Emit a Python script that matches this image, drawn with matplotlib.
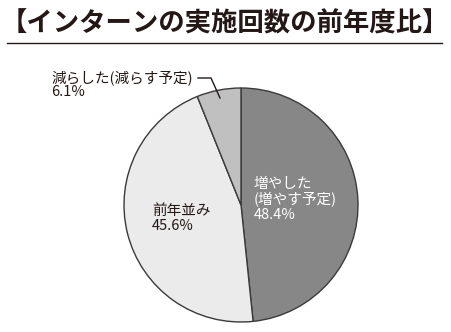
import matplotlib
matplotlib.use("Agg")
import matplotlib.pyplot as plt
from matplotlib.lines import Line2D

plt.rcParams['font.family'] = ['Noto Sans CJK JP', 'DejaVu Sans']

title = "【インターンの実施回数の前年度比】"
labels = ["増やした\n(増やす予定)", "前年並み", "減らした(減らす予定)"]
values = [48.4, 45.6, 6.1]
colors = ["#878787", "#ebebeb", "#c0c0c0"]

W, H = 452, 332
fig = plt.figure(figsize=(W / 100, H / 100), dpi=100)

# pie axes placed in pixel coords: circle ~ x 124..358, y 89..321
cx, cy, r = 241, 205, 117
ax = fig.add_axes([(cx - r) / W, 1 - (cy + r) / H, 2 * r / W, 2 * r / H])
wedges, _ = ax.pie(values, colors=colors, startangle=90, counterclock=False,
                   wedgeprops=dict(edgecolor="#3a3a3a", linewidth=1.0))
ax.set_xlim(-1, 1)
ax.set_ylim(-1, 1)
ax.set_aspect("equal")
ax.axis("off")

def px(x, y):
    return x / W, 1 - y / H

txtc = "#231815"
fig.text(*px(0.5, 24), title, fontsize=19, fontweight="bold", color=txtc,
         va="center", ha="left")
fig.add_artist(Line2D([7 / W, 442 / W], [1 - 43 / H, 1 - 43 / H],
                      color=txtc, lw=1.0))

fig.text(*px(254, 177), labels[0] + "\n%.1f%%" % values[0], fontsize=10.5,
         color="white", va="top", ha="left", linespacing=1.1)
fig.text(*px(152, 204), labels[1] + "\n%.1f%%" % values[1], fontsize=10.5,
         color=txtc, va="top", ha="left", linespacing=1.1)
fig.text(*px(51, 70), labels[2] + "\n%.1f%%" % values[2], fontsize=10.5,
         color=txtc, va="top", ha="left", linespacing=1.05)

# leader line for the small slice
fig.add_artist(Line2D([198 / W, 211 / W, 220 / W],
                      [1 - 78 / H, 1 - 78 / H, 1 - 98 / H],
                      color=txtc, lw=1.0))

fig.savefig("out.png", dpi=100)
